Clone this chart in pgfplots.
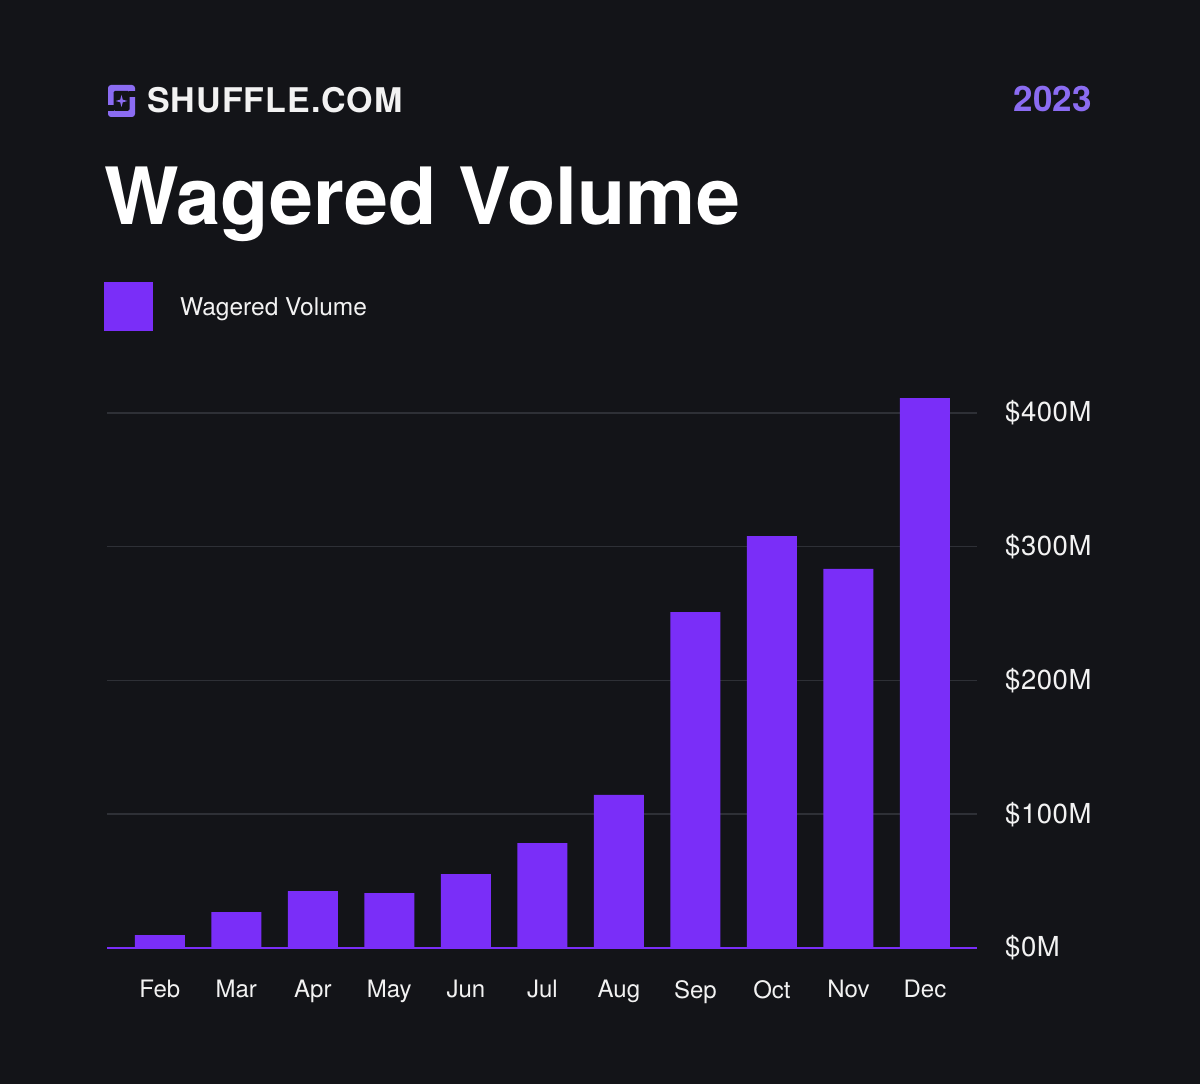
\documentclass[border=0pt]{standalone}
\usepackage{pgfplots}
\pgfplotsset{compat=1.18}
\usepackage{fontspec}
\setmainfont{TeX Gyre Heros}

\definecolor{bg}{HTML}{131418}
\definecolor{bar}{HTML}{7A2EF8}
\definecolor{accent}{HTML}{8B6CF2}
\definecolor{gridc}{HTML}{2E3036}
\definecolor{txt}{HTML}{F2F2F2}

\begin{document}
\begin{tikzpicture}[x=1bp,y=1bp]
  % canvas
  \fill[bg] (0,0) rectangle (1200,1084);
  \useasboundingbox (0,0) rectangle (1200,1084);
  \coordinate (plotorigin) at (107,136);

  % brand mark
  \fill[accent, rounded corners=3bp] (108,967) rectangle (135,999);
  \fill[bg, rounded corners=1.5bp] (113.5,973) rectangle (129.5,993);
  \fill[bg] (129,987) rectangle (136,993);
  \fill[bg] (107,973) rectangle (114,979);
  \fill[accent] (121.5,989) -- (122.8,984.3) -- (127.5,983) -- (122.8,981.7)
     -- (121.5,977) -- (120.2,981.7) -- (115.5,983) -- (120.2,984.3) -- cycle;

  \node[anchor=base west, inner sep=0pt, text=txt]
    at (147,971) {\fontsize{34bp}{40bp}\selectfont\bfseries\addfontfeatures{LetterSpace=3}SHUFFLE.COM};
  \node[anchor=base east, inner sep=0pt, text=accent]
    at (1092,972) {\fontsize{35bp}{40bp}\selectfont\bfseries 2023};

  % title
  \node[anchor=base west, inner sep=0pt, text=white]
    at (104,859) {\fontsize{79bp}{90bp}\selectfont\bfseries Wagered Volume};

  % legend
  \fill[bar] (104,753) rectangle (153,802);
  \node[anchor=base west, inner sep=0pt, text=txt]
    at (180,768) {\fontsize{24.5bp}{28bp}\selectfont Wagered Volume};

  \begin{axis}[
    at={(plotorigin)}, anchor=south west,
    scale only axis,
    width=870bp, height=561.75bp,
    xmin=-0.69, xmax=10.68,
    ymin=0, ymax=420,
    axis line style={draw=none},
    major tick length=0pt,
    xtick={0,...,10},
    xticklabels={Feb,Mar,Apr,May,Jun,Jul,Aug,Sep,Oct,Nov,Dec},
    xticklabel style={anchor=north, inner sep=0pt, yshift=-32bp, text=txt,
      font=\fontsize{24bp}{28bp}\selectfont},
    ytick={0,100,200,300,400},
    yticklabels={\$0M,\$100M,\$200M,\$300M,\$400M},
    yticklabel pos=right,
    yticklabel style={anchor=west, inner sep=0pt, xshift=28bp, text=txt,
      font=\fontsize{27.5bp}{32bp}\selectfont\addfontfeatures{LetterSpace=2}},
    ymajorgrids,
    grid style={gridc, line width=1.5bp},
    ybar, bar width=50bp,
    clip=false,
  ]
    \addplot[fill=bar, draw=none] coordinates {
      (0,9.7) (1,26.9) (2,42.6) (3,41.1) (4,55.3) (5,78.5)
      (6,114.4) (7,251.2) (8,308.0) (9,283.4) (10,411.2)
    };
    \draw[bar, line width=1.5bp] (rel axis cs:0,0) -- (rel axis cs:1,0);
  \end{axis}
\end{tikzpicture}
\end{document}
